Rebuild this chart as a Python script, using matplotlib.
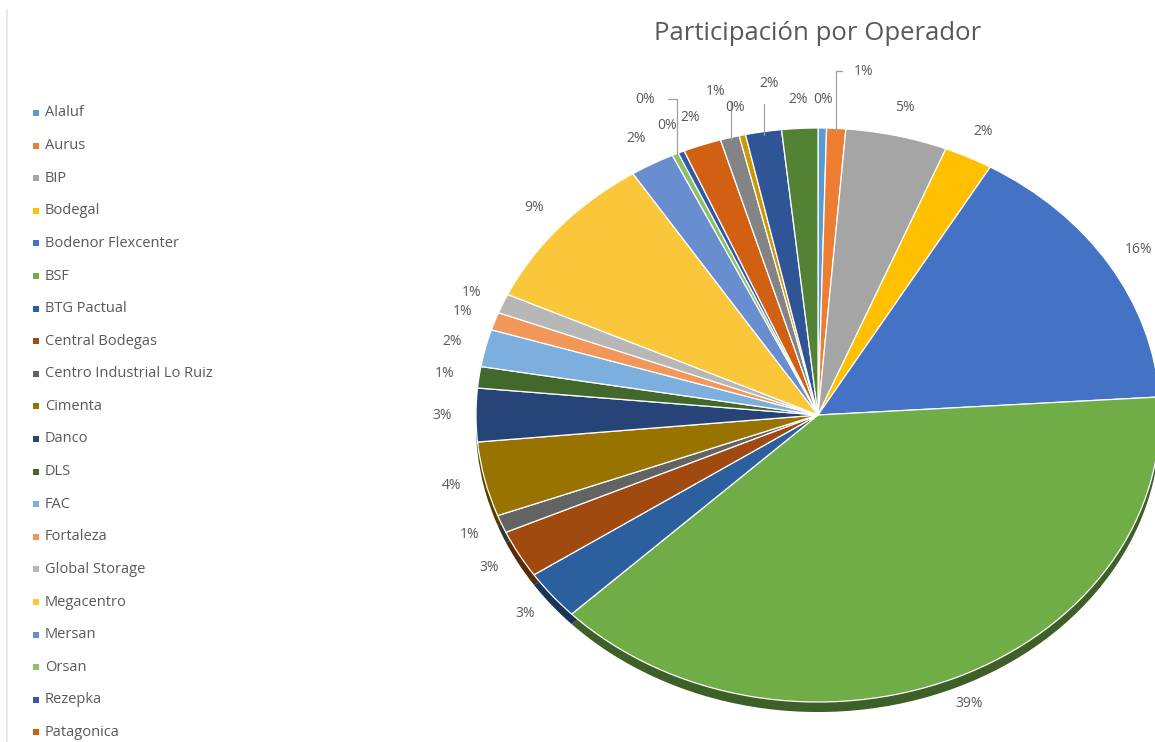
import numpy as np
import matplotlib
matplotlib.use("Agg")
import matplotlib.pyplot as plt
from matplotlib.colors import to_rgb

plt.rcParams['font.family'] = ['Open Sans', 'DejaVu Sans']

# operator names (the last four are cut off from the legend in the original)
operadores = ["Alaluf", "Aurus", "BIP", "Bodegal", "Bodenor Flexcenter", "BSF",
              "BTG Pactual", "Central Bodegas", "Centro Industrial Lo Ruiz",
              "Cimenta", "Danco", "DLS", "FAC", "Fortaleza", "Global Storage",
              "Megacentro", "Mersan", "Orsan", "Rezepka", "Patagonica",
              "Otro 1", "Otro 2", "Otro 3", "Otro 4"]
participacion = [0.4, 0.9, 4.8, 2.3, 15.6, 38.8, 2.8, 2.7, 1.0, 4.2, 3.0, 1.2,
                 2.1, 1.0, 1.1, 9.0, 2.1, 0.3, 0.3, 1.8, 0.9, 0.3, 1.7, 1.7]
colores = ["#5B9BD5", "#ED7D31", "#A5A5A5", "#FFC000", "#4472C4", "#70AD47",
           "#2B5F9E", "#A14A10", "#636363", "#997300", "#264478", "#43682B",
           "#7CAFDD", "#F1975A", "#B7B7B7", "#FAC73A", "#698ED0", "#8CC168",
           "#335AA1", "#D26012", "#848484", "#CC9A00", "#2F5597", "#548235"]
n_legend = 20

W, H = 1155, 742
fig = plt.figure(figsize=(W / 100, H / 100), dpi=100)

# background axes in pixel coords for legend/border/title
bg = fig.add_axes([0, 0, 1, 1])
bg.set_xlim(0, W)
bg.set_ylim(H, 0)
bg.axis("off")
bg.plot([7, 7], [10, H], color="#E4E4E4", lw=1.2)
bg.text(818, 33, "Participación por Operador", ha="center", va="center",
        fontsize=18.5, color="#595959")

y0, step = 113, 32.6
for i in range(n_legend):
    y = y0 + i * step
    bg.scatter(36, y, marker="s", s=15, color=colores[i], linewidths=0)
    bg.text(45, y, operadores[i], ha="left", va="center", fontsize=10.5,
            color="#595959")

# pie in an axes stretched to an ellipse
cx, cy, rx, ry = 818, 415, 342, 287
ax = fig.add_axes([(cx - rx) / W, (H - cy - ry) / H, 2 * rx / W, 2 * ry / H])

vals = np.array(participacion)
sombra = [tuple(np.array(to_rgb(c)) * 0.55) for c in colores]
ax.pie(vals, colors=sombra, startangle=90, counterclock=False,
       center=(0, -0.035), radius=1.0, frame=True,
       wedgeprops=dict(linewidth=0))
wedges, _ = ax.pie(vals, colors=colores, startangle=90, counterclock=False,
                   radius=1.0, frame=True,
                   wedgeprops=dict(linewidth=0.9, edgecolor="white"))
ax.set_aspect("auto")
ax.set_xlim(-1, 1)
ax.set_ylim(-1, 1)
ax.axis("off")

pct = vals / vals.sum() * 100
# labels that sit further out with a leader line: index -> (radius, x shift)
lider = {17: (1.21, 0.0), 20: (1.165, 0.0), 22: (1.17, 0.045), 1: (1.2, 0.07)}
for i, w in enumerate(wedges):
    ang = np.deg2rad((w.theta1 + w.theta2) / 2)
    ux, uy = np.cos(ang), np.sin(ang)
    txt = f"{pct[i]:.0f}%"
    if i in lider:
        r, dx = lider[i]
        tx, ty = ux * r + dx, uy * r
        ax.annotate(txt, xy=(ux * 0.99, uy * 0.99), xytext=(tx, ty),
                    ha="center", va="center", fontsize=10, color="#595959",
                    arrowprops=dict(arrowstyle="-", color="#A0A0A0", lw=0.9,
                                    shrinkA=7, shrinkB=0,
                                    connectionstyle="angle,angleA=0,angleB=90,rad=0"),
                    annotation_clip=False)
    else:
        r = 1.1
        ax.text(ux * r, uy * r, txt, ha="center", va="center", fontsize=10,
                color="#595959", clip_on=False)

fig.savefig("out.png", dpi=100)
